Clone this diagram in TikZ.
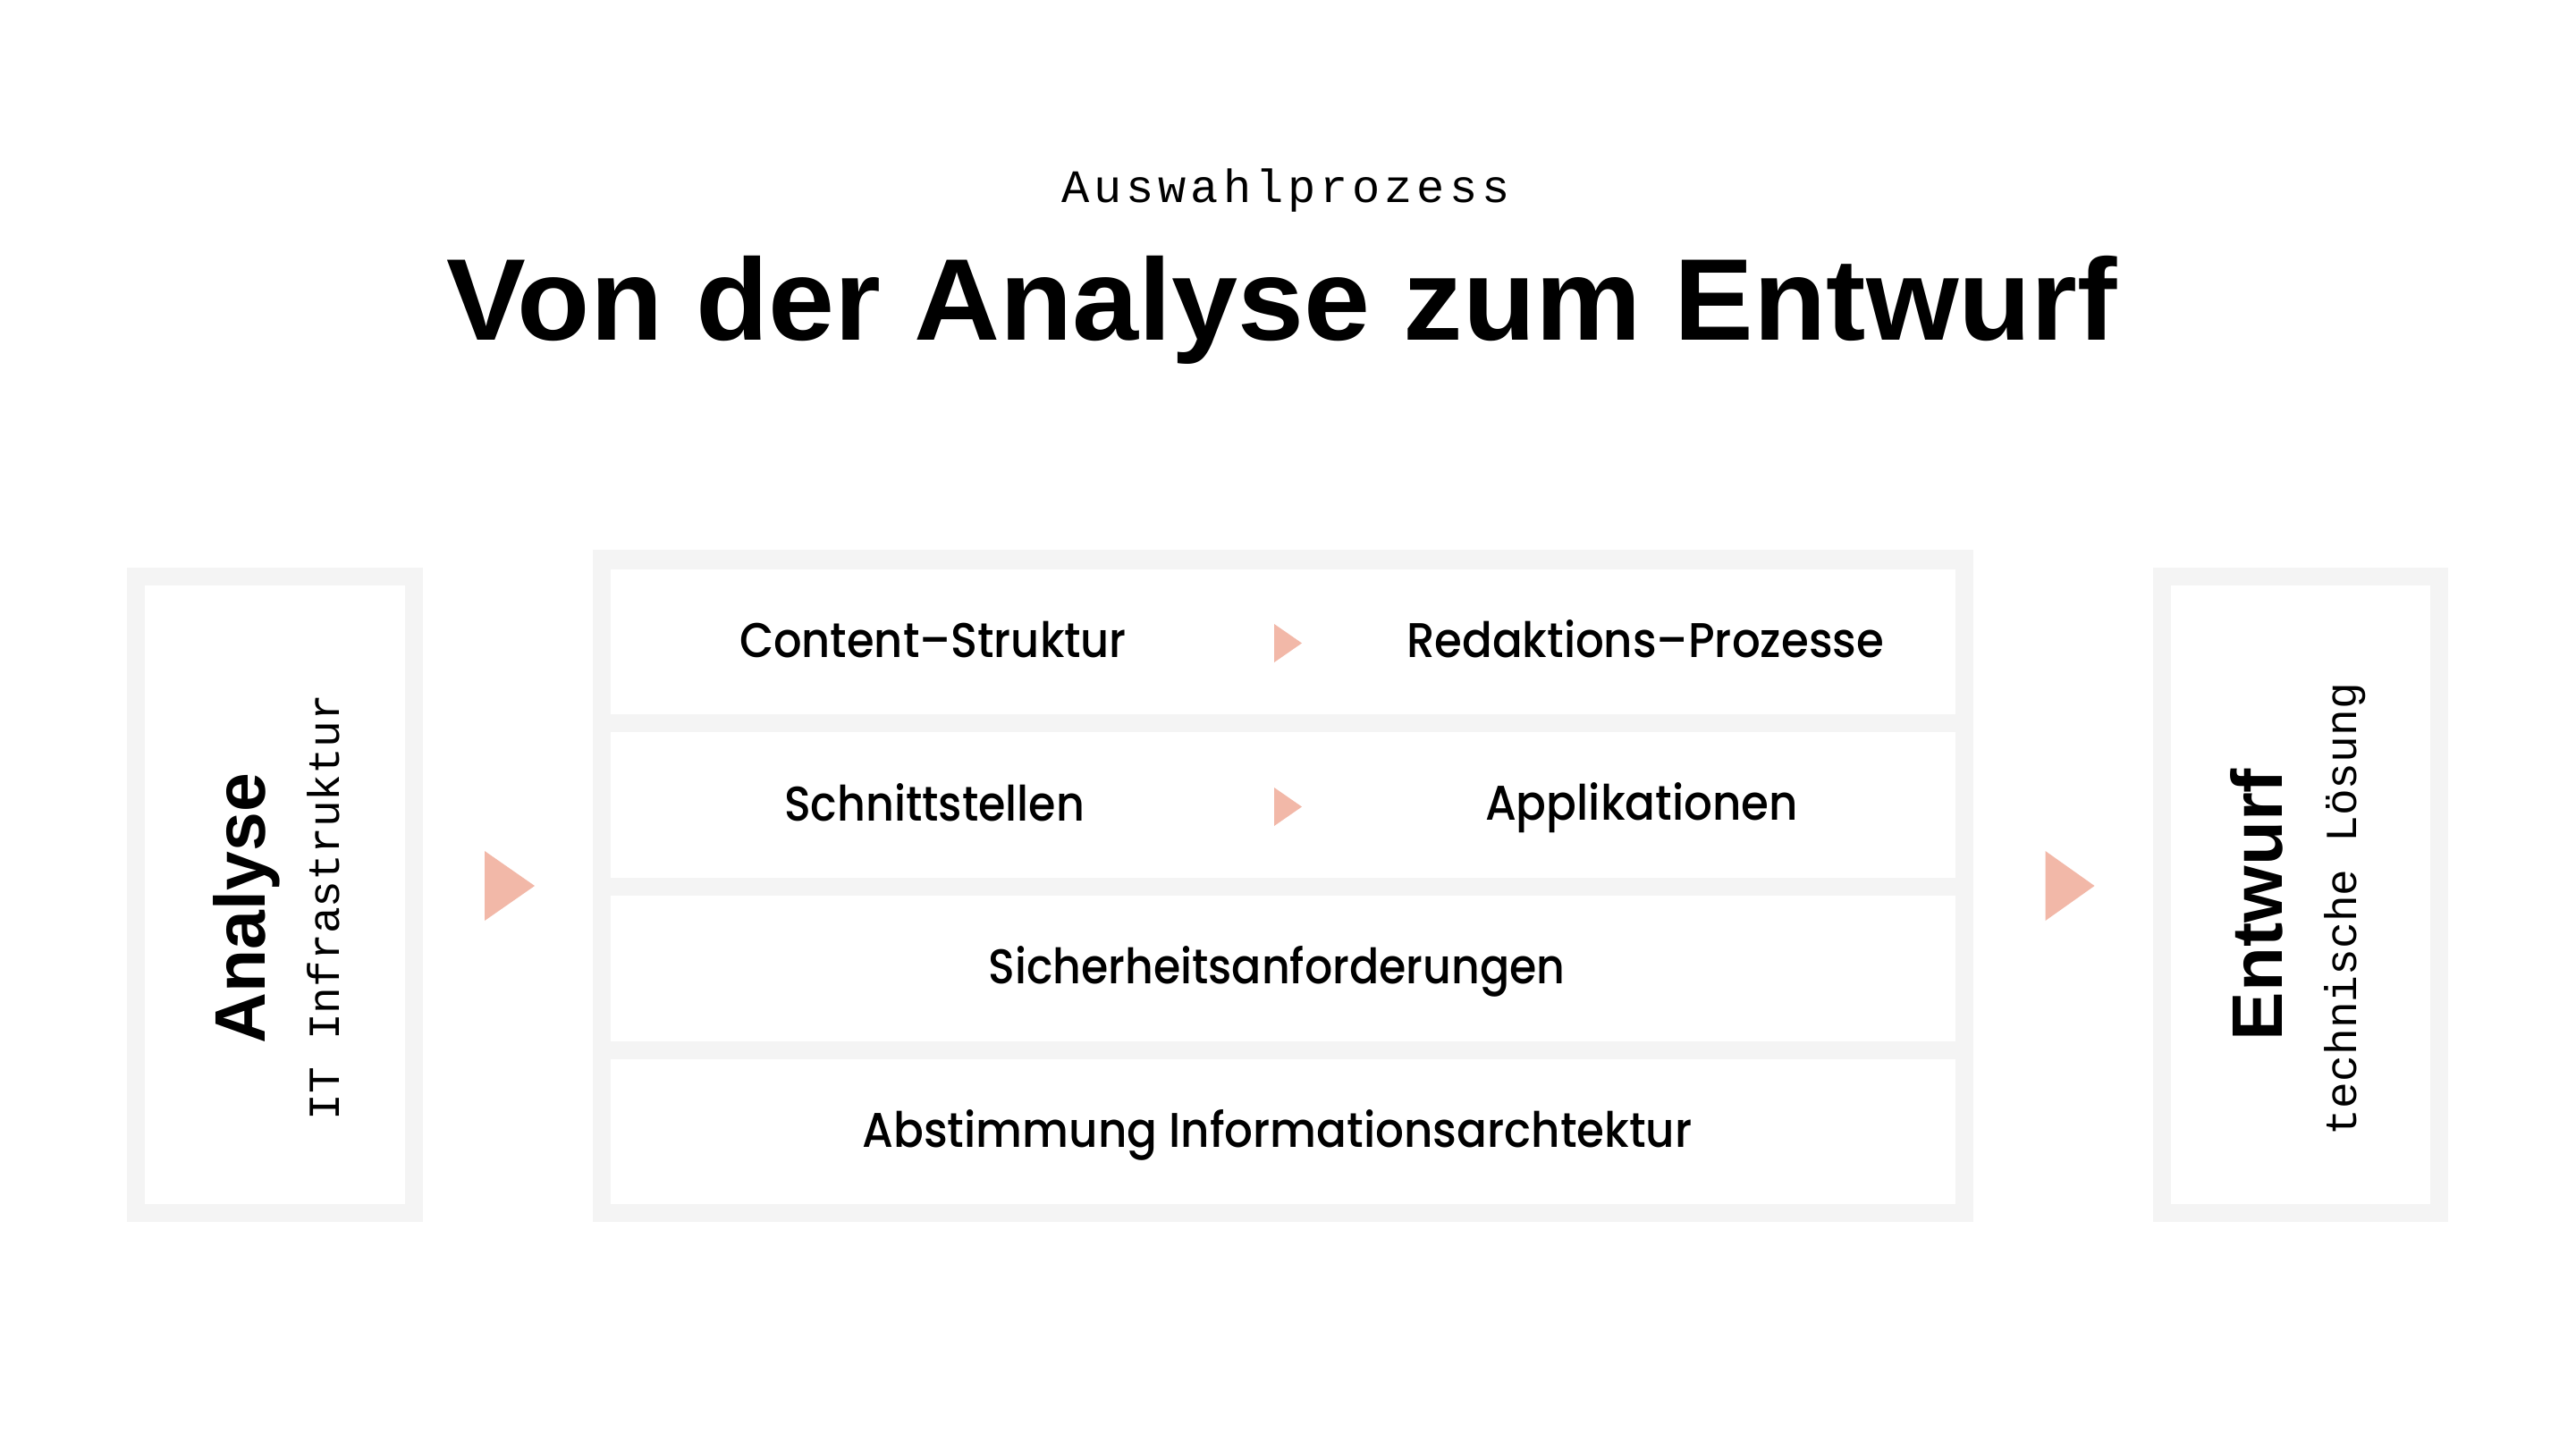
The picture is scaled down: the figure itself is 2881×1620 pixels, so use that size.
\documentclass[tikz,border=0pt]{standalone}
\usepackage{fontspec}
\usepackage{graphicx}
\setmainfont{Liberation Sans}
\newfontfamily\monofont{Liberation Mono}
\newfontfamily\spacedmono{Liberation Mono}[LetterSpace=9.5]
\newfontfamily\rowfont{Poppins Medium}
\definecolor{panelgrey}{HTML}{F4F4F4}
\definecolor{salmon}{HTML}{F2B8A8}
\newcommand\fitw[2]{\resizebox{#1pt}{\height}{#2}}
\begin{document}
\begin{tikzpicture}[x=1pt,y=-1pt,
  panel/.style={draw=panelgrey, line width=20pt, fill=white, inner sep=0pt, outer sep=0pt, anchor=north west},
  rowbox/.style={fill=white, inner sep=0pt, outer sep=0pt, anchor=north west, minimum width=1504pt},
  rowtext/.style={inner sep=0pt, outer sep=0pt, anchor=base, font=\rowfont\fontsize{54.5}{54.5}\selectfont},
  vbold/.style={inner sep=0pt, outer sep=0pt, anchor=base, rotate=90, font=\bfseries\fontsize{80}{80}\selectfont},
  vmono/.style={inner sep=0pt, outer sep=0pt, anchor=base, rotate=90, font=\monofont\fontsize{49.6}{49.6}\selectfont},
  marker/.style={fill=salmon, draw=none}]
\useasboundingbox (0,0) rectangle (2881,1620);
\fill[white] (0,0) rectangle (2881,1620);

% header
\node[inner sep=0pt, anchor=base, font=\spacedmono\fontsize{52}{52}\selectfont] (sub) at (1438,226) {Auswahlprozess};
\node[inner sep=0pt, anchor=base, font=\bfseries\fontsize{130}{130}\selectfont] (title) at (1434,380) {\fitw{1868}{Von der Analyse zum Entwurf}};

% left panel
\node[panel, minimum width=311pt, minimum height=712pt] (analyse) at (152,645) {};
\node[vbold] (analyseT) at (296,1016) {\fitw{302}{Analyse}};
\node[vmono] (analyseS) at (379,1015) {IT Infrastruktur};

% middle panel
\node[fill=panelgrey, inner sep=0pt, outer sep=0pt, anchor=north west, minimum width=1544pt, minimum height=752pt] (mid) at (663,615) {};
\node[rowbox, minimum height=162pt] (r1) at (683,637) {};
\node[rowbox, minimum height=163pt] (r2) at (683,819) {};
\node[rowbox, minimum height=163pt] (r3) at (683,1002) {};
\node[rowbox, minimum height=162pt] (r4) at (683,1185) {};

\node[rowtext] (t11) at (1043.5,735) {\fitw{433}{Content–Struktur}};
\node[rowtext] (t12) at (1840,735) {\fitw{534}{Redaktions–Prozesse}};
\node[rowtext] (t21) at (1045,918) {\fitw{336}{Schnittstellen}};
\node[rowtext] (t22) at (1836,917) {\fitw{350}{Applikationen}};
\node[rowtext] (t3) at (1428,1100) {\fitw{645}{Sicherheitsanforderungen}};
\node[rowtext] (t4) at (1428.5,1283) {\fitw{928}{Abstimmung Informationsarchtektur}};

% right panel
\node[panel, minimum width=310pt, minimum height=712pt] (entwurf) at (2418,645) {};
\node[vbold] (entwurfT) at (2552,1012) {\fitw{304}{Entwurf}};
\node[vmono] (entwurfS) at (2635,1017) {technische Lösung};

% markers
\fill[marker] (542,952) -- (598,991) -- (542,1030) -- cycle;
\fill[marker] (2287.5,952) -- (2342.5,991) -- (2287.5,1030) -- cycle;
\fill[marker] (1425,698) -- (1456,719.5) -- (1425,741) -- cycle;
\fill[marker] (1425,881) -- (1456,902.5) -- (1425,924) -- cycle;
\end{tikzpicture}
\end{document}
